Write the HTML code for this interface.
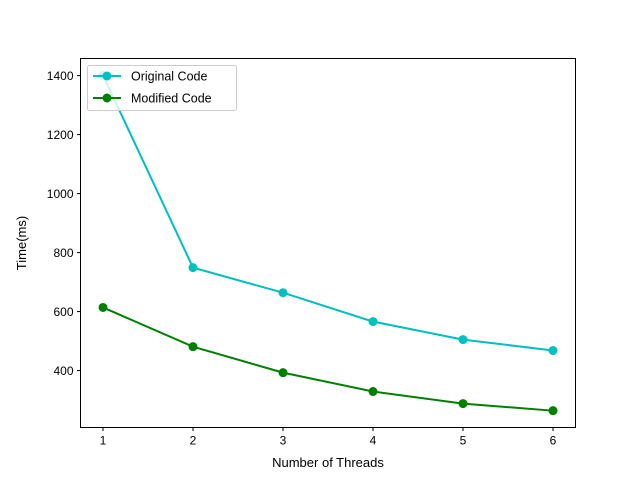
<!DOCTYPE html>
<html><head><meta charset="utf-8"><style>
body{margin:0;background:#fff;}
svg{display:block;font-family:"Liberation Sans","DejaVu Sans",sans-serif;}
</style></head><body>
<svg id="chart" width="640" height="480"></svg>
<script>
const threads=[1,2,3,4,5,6];
const originalTimes=[1401,749,664,566,505,468];
const modifiedTimes=[614,481,393,329,288,264];
const xTicks=[1,2,3,4,5,6];
const yTicks=[400,600,800,1000,1200,1400];
const NS="http://www.w3.org/2000/svg";
const svg=document.getElementById('chart');
const L=80.5,R=575.5,T=58.5,B=427.5;
const xmin=0.75,xmax=6.25,ymin=207,ymax=1458;
function xs(v){return L+(v-xmin)/(xmax-xmin)*(R-L);}
function ys(v){return B-(v-ymin)/(ymax-ymin)*(B-T);}
function el(tag,attrs,parent){const e=document.createElementNS(NS,tag);for(const k in attrs)e.setAttribute(k,attrs[k]);(parent||svg).appendChild(e);return e;}
const frame=el('rect',{x:L,y:T,width:R-L,height:B-T,fill:'none',stroke:'#000','stroke-width':1});


xTicks.forEach(t=>{
 const g=el('g',{});
 
 
 el('line',{x1:xs(t),x2:xs(t),y1:B,y2:B+3.5,stroke:'#000'},g);
 const tx=el('text',{x:xs(t),y:B+17,'font-size':12,'text-anchor':'middle'},g);tx.textContent=t;
});
yTicks.forEach(t=>{
 const g=el('g',{});
 
 
 el('line',{x1:L-3.5,x2:L,y1:ys(t),y2:ys(t),stroke:'#000'},g);
 const tx=el('text',{x:L-7,y:ys(t)+4.5,'font-size':12,'text-anchor':'end'},g);tx.textContent=t;
});
const xl=el('text',{x:(L+R)/2,y:467,'font-size':13,'text-anchor':'middle'});xl.textContent='Number of Threads';


const yl=el('text',{x:0,y:0,'font-size':13,'text-anchor':'middle',transform:`translate(26,${(T+B)/2}) rotate(-90)`});yl.textContent='Time(ms)';


function series(vals,color,name){
 const g=el('g',{});
 
 
 el('polyline',{points:vals.map((v,i)=>xs(threads[i])+','+ys(v)).join(' '),fill:'none',stroke:color,'stroke-width':2},g);
 vals.forEach((v,i)=>{
  const c=el('circle',{cx:xs(threads[i]),cy:ys(v),r:4.5,fill:color},g);
  
  
 });
}
series(originalTimes,'#00bfbf','original-code-series');
series(modifiedTimes,'#008000','modified-code-series');
const lg=el('g',{});


el('rect',{x:87.5,y:65.5,width:149,height:45,rx:2,fill:'#fff','fill-opacity':0.8,stroke:'#ccc'},lg);
[['Original Code','#00bfbf',76],['Modified Code','#008000',98]].forEach(([n,c,y])=>{
 el('line',{x1:93,x2:121,y1:y,y2:y,stroke:c,'stroke-width':2},lg);
 el('circle',{cx:107,cy:y,r:4.5,fill:c},lg);
 const t=el('text',{x:131,y:y+4.5,'font-size':12.5},lg);t.textContent=n;
});
</script>
</body></html>
